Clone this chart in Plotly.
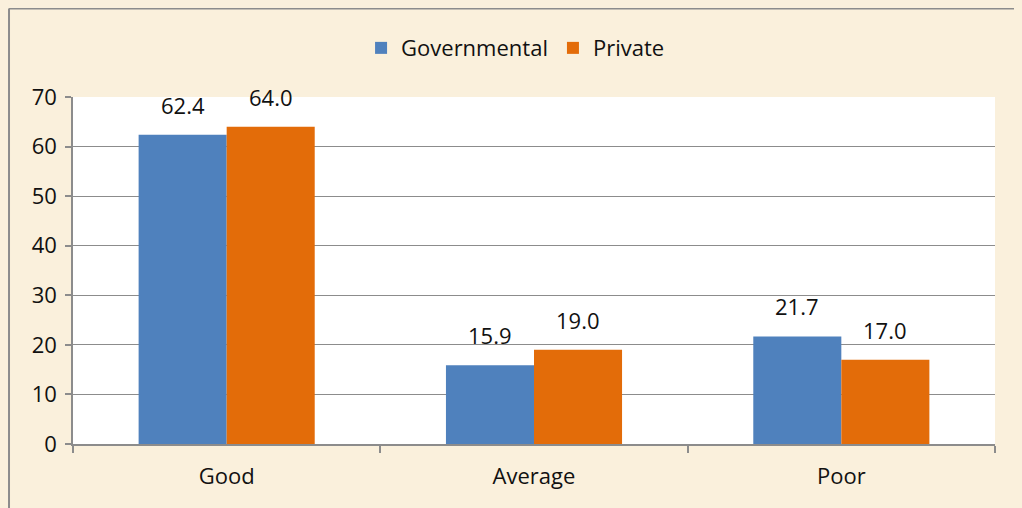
import plotly.graph_objects as go

categories = ["Good", "Average", "Poor"]
governmental = [62.4, 15.9, 21.7]
private = [64.0, 19.0, 17.0]
series_names = ["Governmental", "Private"]
y_ticks = [0, 10, 20, 30, 40, 50, 60, 70]

BLUE = "#4F81BD"
ORANGE = "#E36C09"
BG = "#FAF0DC"
GRID = "#8c8c8c"
FONT = "Open Sans, Liberation Sans, sans-serif"

fig = go.Figure()
fig.add_trace(go.Bar(x=categories, y=governmental, name=series_names[0],
                     marker=dict(color=BLUE, line=dict(width=0))))
fig.add_trace(go.Bar(x=categories, y=private, name=series_names[1],
                     marker=dict(color=ORANGE, line=dict(width=0))))

# value labels above bars
for vals, shift in ((governmental, -44), (private, 44)):
    for c, v in zip(categories, vals):
        fig.add_annotation(x=c, y=v, text=f"{v:.1f}", showarrow=False,
                           xshift=shift, yshift=30, yanchor="middle",
                           font=dict(size=22, color="#111111", family=FONT))

# outer border (top and left)
fig.add_shape(type="line", xref="paper", yref="paper",
              x0=-0.0694, x1=1.05, y0=1.255, y1=1.255,
              line=dict(color=GRID, width=2))
fig.add_shape(type="line", xref="paper", yref="paper",
              x0=-0.0694, x1=-0.0694, y0=1.255, y1=-0.2,
              line=dict(color=GRID, width=2))

fig.update_layout(
    width=1014, height=500,
    margin=dict(l=65, r=27, t=89, b=64),
    paper_bgcolor=BG,
    plot_bgcolor="white",
    barmode="group",
    bargap=0.427,
    bargroupgap=0,
    font=dict(family=FONT, size=22, color="#111111"),
    showlegend=True,
    legend=dict(orientation="h", x=0.48, xanchor="center", y=1.141, yanchor="middle",
                font=dict(size=22), bgcolor="rgba(0,0,0,0)", itemwidth=30,
                traceorder="normal"),
    xaxis=dict(showline=True, linecolor=GRID, linewidth=1.5,
               ticks="outside", tickson="boundaries", ticklen=7,
               tickcolor=GRID, tickwidth=1.5, ticklabelstandoff=12,
               tickfont=dict(size=22), showgrid=False),
    yaxis=dict(range=[0, 70], tickvals=y_ticks, showline=True,
               linecolor=GRID, linewidth=1.5,
               ticks="outside", ticklen=6, tickcolor=GRID, tickwidth=1.5,
               ticklabelstandoff=4,
               gridcolor=GRID, gridwidth=1, zeroline=False,
               tickfont=dict(size=22)),
)

fig.write_html("out.html",
               post_script="document.body.style.background='%s';" % BG)
